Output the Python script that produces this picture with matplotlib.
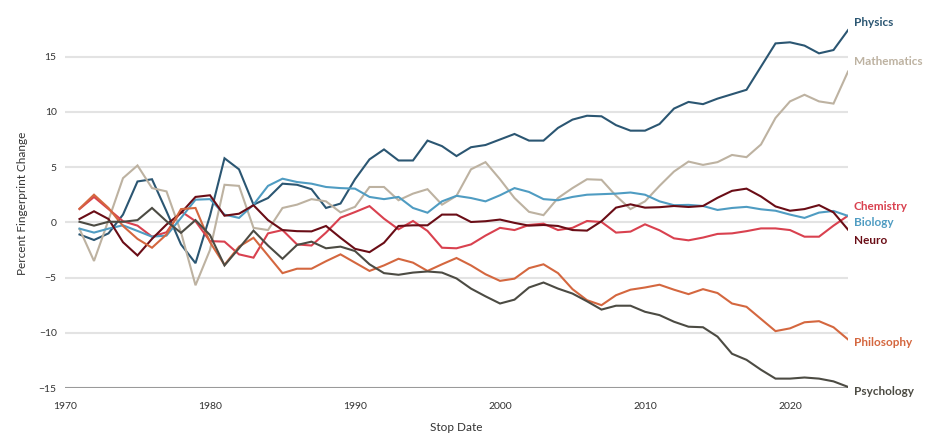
import matplotlib
matplotlib.use("Agg")
import matplotlib.pyplot as plt

years = list(range(1971, 2025))

physics = [-1.1, -1.6, -1.0, 0.7, 3.7, 3.9, 1.0, -2.0, -3.7, 0.6,
           5.8, 4.8, 1.6, 2.2, 3.5, 3.4, 3.0, 1.3, 1.7, 3.9,
           5.7, 6.6, 5.6, 5.6, 7.4, 6.9, 6.0, 6.8, 7.0, 7.5,
           8.0, 7.4, 7.4, 8.55, 9.3, 9.65, 9.6, 8.8, 8.3, 8.3,
           8.9, 10.3, 10.9, 10.7, 11.2, 11.6, 12.0, 14.1, 16.2, 16.3,
           16.0, 15.3, 15.6, 17.4]

mathematics = [-0.6, -3.5, 0.2, 4.0, 5.15, 3.1, 2.8, -0.9, -5.7, -2.5,
               3.4, 3.3, -0.5, -0.7, 1.3, 1.6, 2.1, 1.9, 0.9, 1.4,
               3.2, 3.2, 2.0, 2.6, 3.0, 1.6, 2.4, 4.8, 5.45, 3.9,
               2.2, 0.95, 0.65, 2.2, 3.1, 3.9, 3.85, 2.4, 1.2, 1.9,
               3.3, 4.6, 5.5, 5.2, 5.45, 6.1, 5.9, 7.05, 9.45, 10.95,
               11.55, 10.95, 10.75, 13.65]

chemistry = [1.2, 2.3, 1.2, 0.1, -0.3, -1.3, -0.9, 1.0, 0.1, -1.7,
             -1.75, -2.9, -3.2, -1.0, -0.7, -2.0, -2.1, -0.93, 0.42, 0.93,
             1.47, 0.33, -0.63, 0.12, -0.78, -2.3, -2.35, -2.0, -1.2, -0.5,
             -0.7, -0.24, -0.12, -0.7, -0.5, 0.12, 0.03, -0.93, -0.84, -0.18,
             -0.72, -1.45, -1.63, -1.38, -1.05, -1.0, -0.8, -0.55, -0.55, -0.7,
             -1.3, -1.3, -0.3, 0.6]

biology = [-0.57, -0.93, -0.57, -0.27, -0.78, -1.3, -1.2, 0.4, 2.05, 2.1,
           0.7, 0.4, 1.6, 3.3, 3.95, 3.65, 3.5, 3.2, 3.1, 3.05,
           2.3, 2.1, 2.3, 1.3, 0.87, 1.9, 2.4, 2.2, 1.9, 2.45,
           3.1, 2.75, 2.1, 2.0, 2.3, 2.5, 2.55, 2.6, 2.7, 2.5,
           1.9, 1.55, 1.58, 1.48, 1.12, 1.3, 1.4, 1.18, 1.05, 0.7,
           0.4, 0.88, 1.03, 0.58]

neuro = [0.3, 1.0, 0.3, -1.8, -3.0, -1.5, -0.2, 0.85, 2.3, 2.45,
         0.6, 0.78, 1.55, 0.2, -0.7, -0.8, -0.82, -0.33, -1.4, -2.4,
         -2.7, -1.85, -0.33, -0.27, -0.27, 0.7, 0.7, 0.03, 0.1, 0.25,
         -0.05, -0.3, -0.24, -0.33, -0.7, -0.75, 0.1, 1.33, 1.63, 1.33,
         1.37, 1.48, 1.39, 1.48, 2.22, 2.85, 3.05, 2.34, 1.44, 1.05,
         1.2, 1.56, 0.9, -0.66]

philosophy = [1.24, 2.5, 1.3, -0.33, -1.5, -2.3, -1.1, 1.2, 1.3, -1.8,
              -3.85, -2.2, -1.4, -3.0, -4.6, -4.2, -4.2, -3.52, -2.9, -3.65,
              -4.4, -3.9, -3.3, -3.65, -4.4, -3.8, -3.23, -3.9, -4.7, -5.3,
              -5.1, -4.15, -3.8, -4.6, -6.05, -7.05, -7.5, -6.6, -6.1, -5.9,
              -5.65, -6.1, -6.5, -6.05, -6.4, -7.35, -7.65, -8.75, -9.85, -9.6,
              -9.05, -8.95, -9.5, -10.6]

psychology = [0.05, -0.3, 0.05, 0.05, 0.2, 1.3, 0.1, -0.95, 0.2, -1.15,
              -3.9, -2.35, -0.75, -2.1, -3.3, -2.05, -1.75, -2.35, -2.2, -2.6,
              -3.8, -4.6, -4.75, -4.55, -4.45, -4.55, -5.08, -6.0, -6.7, -7.35,
              -7.0, -5.9, -5.45, -6.0, -6.45, -7.15, -7.9, -7.55, -7.55, -8.1,
              -8.4, -9.0, -9.45, -9.5, -10.35, -11.9, -12.45, -13.35, -14.15, -14.15,
              -14.05, -14.15, -14.4, -14.9]

series = [
    ("Physics", physics, "#2b5672"),
    ("Mathematics", mathematics, "#bdb2a1"),
    ("Chemistry", chemistry, "#d9414f"),
    ("Biology", biology, "#4f9cc2"),
    ("Neuro", neuro, "#6a0d16"),
    ("Philosophy", philosophy, "#d4673f"),
    ("Psychology", psychology, "#4c4b43"),
]
label_y = {"Physics": 18.1, "Mathematics": 14.6, "Chemistry": 1.45,
           "Biology": 0.0, "Neuro": -1.6, "Philosophy": -10.9,
           "Psychology": -15.35}

y_ticks = [-15, -10, -5, 0, 5, 10, 15]
x_ticks = [1970, 1980, 1990, 2000, 2010, 2020]

plt.rcParams['font.family'] = ['Lato', 'DejaVu Sans']

fig = plt.figure(figsize=(9.36, 4.46), dpi=100)
ax = fig.add_axes([65 / 936, 58 / 446, (848 - 65) / 936, (388 - 18) / 446])
ax.set_xlim(1970, 2024)
ax.set_ylim(-15, 18.5)

for yv in y_ticks:
    if yv == -15:
        ax.axhline(yv, color="#9a9a9a", lw=1.5, zorder=1)
    else:
        ax.axhline(yv, color="#e3e3e3", lw=1.5, zorder=0)

for name, vals, col in series:
    ax.plot(years, vals, color=col, lw=1.5, zorder=3, solid_joinstyle="miter")
    ax.annotate(name, xy=(2024, label_y[name]), xytext=(4, 0),
                textcoords="offset points", xycoords="data",
                color=col, fontsize=8.5, fontweight="bold",
                va="center", ha="left", annotation_clip=False)

for s in ax.spines.values():
    s.set_visible(False)
ax.set_yticks(y_ticks)
ax.set_xticks(x_ticks)
ax.tick_params(axis="both", length=0, labelsize=7.5, colors="#333333")
ax.tick_params(axis="y", pad=6)
ax.tick_params(axis="x", pad=10)
ax.set_xlabel("Stop Date", fontsize=8.5, color="#333333", labelpad=8)
ax.set_ylabel("Percent Fingerprint Change", fontsize=8.5, color="#333333", labelpad=8)

fig.savefig("out.png", dpi=100)
